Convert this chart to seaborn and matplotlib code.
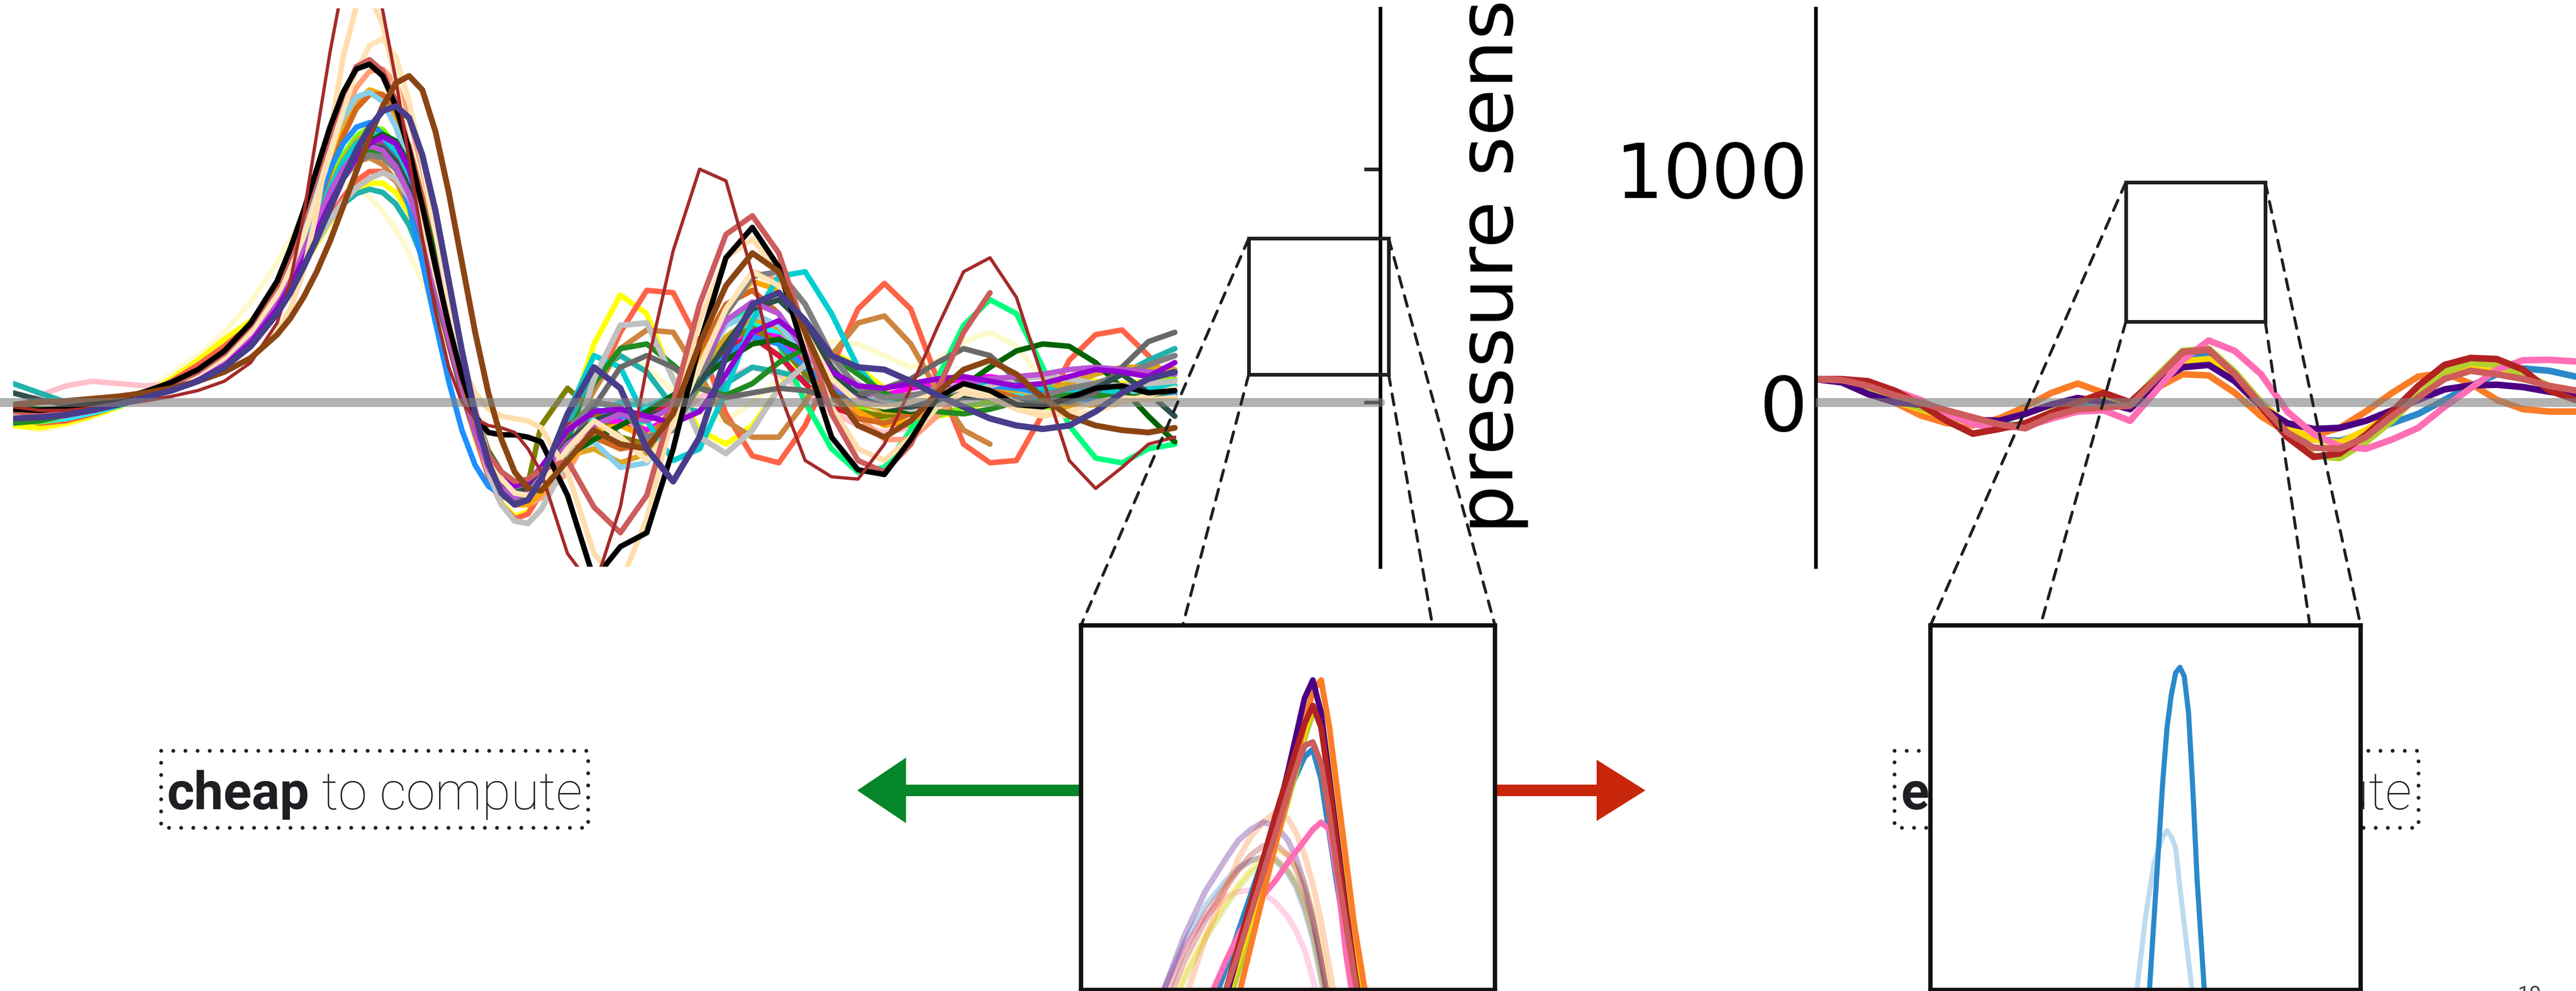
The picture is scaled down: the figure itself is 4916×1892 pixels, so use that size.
import matplotlib
matplotlib.use("Agg")
import matplotlib.pyplot as plt
import seaborn as sns
import pandas as pd
from matplotlib.patches import Rectangle, FancyArrow, ConnectionPatch
from matplotlib.transforms import Affine2D

# ====================== DATA ======================
# ---- left panel: many sensor traces (time grid, sensor value) ----
t_left = [0, 10, 20, 30, 40, 50, 60, 70, 80, 90, 100,
          105, 110, 115, 120, 125, 130, 135, 140, 145, 150, 155, 160, 165, 170, 175, 180, 185, 190, 195, 200,
          210, 220, 230, 240, 250, 260, 270, 280, 290, 300, 310, 320, 330, 340, 350, 360, 370, 380, 390, 400,
          410, 420, 430, 440]
N = None
tr_black = [-30, -35, -25, -5, 15, 45, 85, 140, 220, 340, 520,
            660, 820, 1000, 1180, 1330, 1430, 1450, 1400, 1270, 1080, 840, 580, 330, 110, -60, -130, -140, -140, -150, -170,
            -400, -760, -620, -560, -200, 250, 620, 750, 580, 200, -150, -290, -310, -160, 20, 80, 50, -10, -20, 20, 60, 70, 40, 50]
tr_brown = [-20, -35, -35, -25, -10, 5, 25, 50, 90, 170, 340,
            520, 800, 1150, 1500, 1800, 1950, 1900, 1680, 1380, 1040, 700, 390, 150, 0, -70, -100, -110, -130, -200, -300,
            -650, -800, -450, 150, 650, 1000, 950, 550, 50, -250, -320, -330, -180, 60, 320, 560, 620, 450, 100, -250, -370, -280, -180, -150]
tr_navajo = [-40, -45, -35, -15, 5, 30, 60, 90, 130, 190, 300,
             400, 560, 820, 1150, 1480, 1700, 1750, 1620, 1380, 1080, 790, 540, 330, 160, 40, -30, -60, -70, -80, -110,
             -300, -650, -780, -500, -50, 350, 620, 700, 560, 280, -20, -200, -250, -150, -20, 40, 20, -30, -60, -40, 0, 20, 10, 20]
tr_moccasin = [-50, -55, -40, -20, 0, 30, 70, 120, 190, 300, 460,
               570, 710, 880, 1060, 1250, 1420, 1530, 1560, 1480, 1290, 1030, 730, 430, 160, -60, -220, -330, -390, -400, -360,
               -200, -80, -150, -250, -100, 150, 400, 560, 500, 300, 100, 0, -20, 0, 40, 60, 40, 0, -40, -60, -40, 0, 30, 60]
tr_indianred = [-40, -50, -40, -20, 5, 35, 75, 130, 210, 330, 500,
                630, 790, 970, 1150, 1320, 1440, 1470, 1420, 1290, 1090, 850, 580, 320, 90, -90, -220, -300, -340, -330, -290,
                -250, -450, -560, -400, 0, 420, 720, 800, 640, 300, -50, -250, -300, -180, 50, 300, 470, N, N, N, N, N, N, N]
tr_salmon = [-60, -65, -50, -30, -5, 25, 65, 115, 190, 300, 460,
             580, 730, 900, 1070, 1230, 1350, 1420, 1430, 1370, 1220, 1000, 740, 460, 200, -30, -210, -340, -420, -440, -410,
             -300, -100, -50, -150, -120, 100, 380, 560, 520, 320, 100, -60, -160, -160, -60, 50, 100, 80, 20, -20, -10, 20, 40, 30]
tr_saddle = [-10, 0, 5, 15, 25, 40, 60, 90, 130, 190, 290,
             360, 450, 560, 690, 840, 990, 1140, 1270, 1370, 1400, 1340, 1160, 900, 600, 300, 40, -160, -300, -370, -380,
             -250, -120, -180, -200, -50, 250, 500, 640, 560, 300, 50, -100, -150, -80, 40, 140, 180, 120, 20, -60, -100, -120, -130, -110]
tr_chocolate = [-50, -55, -45, -25, 0, 30, 65, 110, 180, 290, 440,
                550, 680, 830, 990, 1140, 1260, 1320, 1320, 1250, 1100, 880, 620, 360, 120, -80, -230, -330, -380, -380, -340,
                -220, -150, -200, -180, -20, 220, 420, 480, 380, 180, 20, -70, -90, -50, 20, 60, 50, 20, 0, 10, 30, 30, 20, 20]
tr_skyblue = [-70, -75, -60, -40, -10, 25, 65, 115, 190, 300, 470,
              600, 760, 930, 1090, 1220, 1310, 1330, 1290, 1180, 1010, 790, 540, 290, 60, -130, -270, -360, -400, -400, -350,
              -220, -170, -280, -260, -80, 150, 330, 380, 330, 200, 80, 20, 0, 10, 40, 70, 80, 60, 30, 10, 0, 20, 50, 70]
tr_slateblue = [-70, -65, -55, -35, -10, 20, 50, 90, 150, 240, 380,
                470, 580, 700, 830, 960, 1080, 1180, 1250, 1270, 1220, 1060, 820, 520, 220, -50, -260, -390, -440, -420, -330,
                -50, 150, 60, -200, -340, -150, 200, 420, 470, 350, 200, 150, 140, 90, 30, -20, -70, -100, -115, -100, -40, 40, 100, 130]
tr_violet = [-60, -60, -50, -30, -5, 25, 55, 95, 155, 255, 400,
             500, 610, 730, 850, 960, 1050, 1110, 1140, 1110, 1000, 820, 590, 340, 110, -90, -240, -330, -360, -340, -280,
             -120, -40, -30, -60, -90, -40, 120, 300, 350, 260, 130, 70, 60, 80, 100, 110, 90, 70, 80, 110, 140, 130, 110, 170]
tr_gray = [-20, -40, -40, -20, 5, 30, 60, 100, 160, 260, 420,
           510, 620, 740, 860, 960, 1030, 1060, 1050, 1000, 900, 740, 530, 300, 80, -100, -240, -330, -370, -360, -300,
           -120, 0, -20, -150, -120, 80, 380, 540, 560, 420, 200, 60, 20, 30, 50, 40, 20, 10, 30, 60, 80, 120, 160, 200]
tr_silver = [-40, -55, -50, -30, -5, 25, 60, 100, 170, 270, 420,
             500, 600, 690, 780, 860, 920, 960, 985, 960, 880, 740, 550, 330, 110, -110, -300, -440, -510, -520, -460,
             -250, 100, 330, 340, 100, -150, -220, -120, 60, 160, 160, 80, 0, -30, -10, 30, 70, 100, 110, 100, 80, 70, 80, 90]
tr_seagreen = [80, 40, 0, -10, 0, 20, 50, 90, 150, 250, 400,
               490, 590, 690, 780, 850, 895, 914, 900, 850, 760, 620, 450, 260, 60, -130, -280, -360, -390, -370, -300,
               -100, 120, 200, 130, -20, -40, 80, 150, 130, 100, 60, 40, 20, 20, 30, 60, 80, 70, 40, 30, 60, 120, 180, 230]
tr_darkgreen = [-20, -30, -30, -15, 5, 30, 60, 100, 160, 250, 400,
                490, 600, 720, 840, 960, 1060, 1120, 1150, 1120, 1020, 850, 620, 370, 140, -60, -210, -300, -340, -340, -300,
                -230, -160, -100, -40, 30, 100, 180, 250, 270, 220, 120, 30, -30, -40, 0, 70, 150, 220, 250, 240, 170, 60, -60, -170]
tr_forest = [-90, -80, -55, -25, 10, 45, 85, 130, 190, 280, 420,
             510, 620, 740, 860, 960, 1040, 1080, 1070, 1010, 890, 710, 490, 260, 50, -130, -280, -380, -420, -400, -330,
             -150, 80, 230, 250, 160, 60, 30, 80, 170, 230, 200, 120, 40, -10, -40, -50, -30, 0, 20, 30, 30, 20, 30, 50]
tr_yellow = [-100, -110, -90, -60, -20, 30, 100, 180, 270, 350, 450,
             510, 590, 680, 770, 850, 910, 940, 940, 900, 810, 670, 490, 270, 50, -150, -310, -430, -490, -470, -380,
             -100, 250, 460, 380, 100, -120, -180, -100, 60, 200, 220, 150, 60, -20, -60, -40, 10, 60, 80, 100, 90, 80, 90, 100]
tr_tomato = [-60, -90, -80, -50, -15, 30, 90, 160, 240, 330, 450,
             520, 610, 700, 790, 880, 950, 990, 990, 950, 860, 710, 510, 290, 70, -140, -320, -440, -500, -480, -390,
             -150, 50, 300, 480, 470, 250, -50, -230, -260, -100, 150, 400, 510, 400, 100, -180, -260, -250, -50, 180, 290, 310, 200, 60]
tr_dodger = [-50, -55, -45, -25, 0, 30, 70, 120, 190, 300, 450,
             560, 700, 850, 1000, 1110, 1180, 1200, 1150, 1030, 840, 600, 340, 90, -120, -270, -360, -400, -400, -360, -290,
             -150, -30, -60, -80, -20, 80, 200, 280, 250, 150, 60, 0, -20, -10, 20, 50, 70, 60, 40, 20, 10, 20, 30, 40]
tr_cyan = [-70, -80, -70, -45, -15, 20, 60, 110, 180, 280, 430,
           530, 650, 780, 910, 1020, 1100, 1140, 1130, 1070, 950, 770, 550, 310, 80, -120, -280, -380, -430, -420, -360,
           -200, -60, 0, -20, 30, 130, 250, 330, 300, 200, 100, 40, 10, 0, 20, 40, 50, 40, 30, 40, 60, 70, 70, 60]
tr_turquoise = [-40, -50, -45, -25, 0, 30, 65, 110, 180, 290, 440,
                540, 660, 790, 920, 1030, 1110, 1150, 1140, 1080, 960, 780, 560, 320, 90, -110, -270, -370, -410, -400, -340,
                -50, 200, 150, -80, -250, -200, 50, 350, 540, 560, 380, 150, 20, -20, 0, 50, 80, 80, 60, 40, 40, 50, 60, 70]
tr_spring = [-60, -70, -60, -40, -10, 25, 65, 115, 190, 300, 450,
             550, 670, 800, 930, 1040, 1120, 1160, 1150, 1090, 970, 790, 570, 330, 100, -100, -260, -360, -410, -410, -360,
             -250, -150, -100, -80, 0, 150, 330, 400, 250, 0, -200, -300, -280, -120, 100, 330, 440, 380, 150, -100, -240, -260, -200, -180]
tr_lawn = [-80, -85, -70, -45, -15, 20, 60, 110, 180, 290, 440,
           540, 660, 800, 940, 1060, 1140, 1180, 1170, 1100, 970, 780, 550, 300, 70, -130, -280, -370, -400, -380, -320,
           -180, -80, -60, -120, -90, 60, 240, 350, 320, 200, 80, -20, -80, -100, -60, -20, 0, -10, -30, -20, 10, 50, 80, 100]
tr_orange = [-55, -65, -55, -35, -5, 30, 70, 120, 200, 310, 470,
             580, 720, 880, 1040, 1180, 1290, 1340, 1320, 1230, 1070, 850, 590, 330, 90, -120, -280, -390, -440, -440, -390,
             -270, -120, -100, -150, -50, 180, 400, 520, 480, 300, 100, -40, -100, -80, 0, 80, 100, 60, 10, -20, -10, 20, 40, 50]
tr_goldenrod = [-80, -80, -60, -35, -5, 30, 70, 120, 190, 300, 450,
                550, 670, 800, 930, 1040, 1120, 1160, 1150, 1090, 970, 790, 560, 310, 80, -120, -270, -360, -400, -390, -340,
                -230, -200, -260, -220, -80, 120, 280, 360, 320, 200, 80, 0, -40, -40, 0, 40, 60, 50, 50, 80, 120, 150, 150, 140]
tr_peru = [-60, -65, -55, -35, -10, 25, 65, 110, 180, 280, 430,
           520, 630, 750, 870, 970, 1030, 1050, 1020, 950, 840, 690, 500, 280, 60, -140, -290, -380, -420, -400, -330,
           -150, 50, 230, 310, 300, 120, -80, -150, -150, 0, 200, 340, 370, 250, 50, -120, -180, N, N, N, N, N, N, N]
tr_olive = [-40, -50, -40, -20, 5, 35, 70, 115, 185, 290, 440,
            540, 660, 790, 920, 1030, 1110, 1150, 1140, 1080, 960, 780, 560, 320, 90, -120, -290, -400, -430, -350, -100,
            60, -40, -150, -180, -100, 80, 260, 320, 250, 120, 20, -40, -60, -40, 0, 30, 30, 10, -10, -20, 0, 30, 40, 30]
tr_chiffon = [-100, -120, -100, -60, -10, 50, 120, 200, 300, 430, 600,
              700, 800, 880, 930, 940, 920, 880, 820, 740, 640, 520, 380, 230, 80, -70, -200, -300, -350, -350, -300,
              -150, 100, 200, 150, 50, -50, -80, 0, 100, 200, 260, 250, 200, 150, 180, 260, 300, 240, 100, 0, N, N, N, N]
tr_magenta = [-60, -60, -50, -30, -5, 25, 60, 105, 170, 270, 420,
              520, 640, 770, 900, 1010, 1090, 1130, 1120, 1060, 940, 760, 540, 300, 80, -120, -270, -360, -400, -380, -310,
              -180, -100, -80, -120, -60, 80, 220, 300, 280, 180, 80, 30, 30, 60, 80, 100, 110, 90, 60, 40, 30, 40, 50, 60]
tr_pink = [-20, 30, 70, 90, 80, 70, 80, 110, 170, 270, 420,
           510, 620, 740, 860, 960, 1040, 1080, 1070, 1010, 900, 730, 520, 290, 70, -130, -280, -380, -420, -400, -340,
           -200, -120, -100, -120, -80, 20, 100, 150, 120, 40, -40, -100, -130, -110, -60, -20, 0, 0, -10, -20, 0, 20, 30, 40]
tr_dimgray = [-30, -40, -35, -20, 0, 30, 60, 100, 165, 265, 420,
              520, 640, 760, 880, 990, 1070, 1110, 1100, 1040, 920, 740, 520, 290, 70, -120, -270, -360, -400, -390, -330,
              -200, -20, 150, 200, 150, 60, 20, 40, 60, 50, 20, 30, 60, 100, 170, 230, 200, 100, 20, 0, 40, 150, 260, 300]
tr_orchid = [-50, -55, -45, -25, 0, 30, 65, 110, 175, 280, 430,
             530, 650, 780, 900, 1000, 1070, 1100, 1080, 1010, 890, 720, 500, 270, 60, -130, -280, -370, -410, -390, -320,
             -180, -100, -50, -80, -20, 150, 350, 430, 380, 220, 80, 10, -20, 0, 40, 80, 100, 110, 120, 140, 150, 140, 130, 120]
tr_slategray = [40, 10, -10, -10, 0, 25, 55, 95, 160, 260, 410,
                510, 630, 750, 870, 980, 1060, 1100, 1090, 1030, 920, 750, 530, 300, 80, -110, -260, -350, -390, -370, -310,
                -170, -80, -40, -60, -30, 80, 250, 400, 440, 330, 150, 20, -20, -20, 0, 20, 20, 0, -10, 10, 60, 120, 40, -60]
tr_crimson = [-50, -60, -50, -30, -5, 25, 60, 105, 170, 275, 425,
              520, 640, 770, 890, 990, 1060, 1090, 1070, 1000, 880, 700, 480, 250, 40, -140, -290, -380, -410, -380, -300,
              -100, -50, -40, -60, 0, 100, 230, 280, 200, 80, -20, -60, -60, -20, 30, 60, 50, 20, -10, -20, 0, 20, 30, 20]

# ---- right panel: a few traces ----
t_right = [0, 10, 20, 30, 40, 50, 60, 70, 80, 90, 100, 110, 120, 130, 140,
           150, 160, 170, 180, 190, 200, 210, 220, 230, 240, 250, 260, 270, 280, 290]
rt_orange = [99, 95, 60, 0, -56, -90, -99, -70, -20, 40, 80, 40, -5, 60, 120,
             115, 40, -60, -130, -144, -110, -40, 40, 110, 125, 80, 10, -30, -40, -40]
rt_blue = [99, 90, 45, 10, -20, -55, -80, -95, -100, -70, -5, 10, -10, 70, 190,
           200, 110, -10, -110, -160, -166, -130, -90, -50, 10, 70, 120, 145, 135, 110]
rt_gold = [99, 90, 50, 5, -30, -65, -90, -105, -100, -50, 5, 20, -5, 90, 175,
           185, 110, 0, -100, -160, -173, -120, -50, 30, 110, 145, 130, 100, 70, 50]
rt_yellowgreen = [99, 92, 55, 10, -25, -60, -88, -105, -95, -40, 10, 15, -5, 110, 220,
                  230, 130, 0, -130, -230, -240, -170, -80, 30, 130, 170, 160, 120, 70, 45]
rt_indigo = [99, 85, 35, 0, -10, -50, -75, -80, -50, -10, 18, 0, -30, 80, 150,
             160, 90, -20, -90, -115, -110, -80, -35, 10, 55, 72, 75, 65, 45, 30]
rt_pink = [99, 95, 75, 50, 10, -50, -95, -108, -105, -70, -40, -35, -80, 50, 180,
           265, 220, 120, -40, -136, -190, -200, -160, -110, -20, 60, 140, 180, 182, 175]
rt_firebrick = [99, 99, 90, 50, -10, -80, -135, -115, -90, -45, 0, 40, 0, 100, 215,
                225, 120, -20, -150, -235, -220, -140, -40, 70, 160, 190, 185, 140, 50, 10]
rt_indianred = [99, 95, 70, 30, 0, -35, -65, -95, -112, -60, -30, -22, -15, 100, 215,
                225, 120, -10, -130, -195, -200, -150, -60, 20, 100, 135, 120, 100, 70, 50]

# ---- left zoom inset (relative units 0-100) ----
t_inset_l = [15, 20, 25, 30, 35, 38, 41, 44, 47, 50, 52, 54, 56, 58, 60, 62, 64, 66, 68, 70, 75]
il_indigo = [-80, -60, -40, -20, -2, 10, 22, 34, 46, 60, 70, 80, 85, 76, 58, 40, 22, 6, -10, -25, -60]
il_orange = [-90, -70, -50, -30, -12, -2, 12, 26, 40, 53, 63, 73, 82, 85, 72, 54, 36, 18, 4, -10, -45]
il_firebrick = [-80, -60, -40, -18, 0, 12, 24, 36, 48, 59, 66, 73, 78, 72, 56, 38, 21, 6, -8, -22, -55]
il_gold = [-85, -65, -45, -22, -3, 8, 19, 31, 43, 55, 63, 71, 78, 75, 60, 42, 25, 10, 0, -15, -50]
il_yellowgreen = [-85, -65, -45, -24, -6, 5, 16, 28, 40, 52, 60, 69, 76, 74, 60, 43, 27, 12, 2, -12, -48]
il_indianred = [-75, -55, -35, -15, 0, 10, 21, 32, 43, 54, 61, 67, 68, 62, 48, 32, 18, 4, -10, -22, -55]
il_blue = [-70, -50, -30, -10, 6, 16, 26, 36, 45, 54, 59, 64, 66, 58, 43, 28, 14, 0, -14, -26, -58]
il_pink = [-50, -35, -20, -5, 8, 15, 21, 26, 30, 35, 38, 41, 44, 46, 44, 30, 10, -5, -20, -35, -65]
il_indigo_f = [-25, 0, 15, 27, 36, 41, 44, 46, 45, 41, 36, 29, 20, 8, -5, -18, -30, -40, -50, -60, -80]
il_orange_f = [-40, -18, -3, 14, 28, 36, 42, 46, 48.8, 47, 43, 37, 29, 19, 6, -7, -20, -32, -44, -55, -80]
il_gold_f = [-30, -10, 4, 15, 24, 29, 33, 36.5, 38.4, 37, 34, 29, 22, 12, -2, -14, -26, -37, -48, -58, -80]
il_yellowgreen_f = [-30, -10, 3, 14, 23, 28, 32, 35, 35.5, 33, 29, 24, 16, 3, -8, -20, -31, -42, -52, -62, -85]
il_blue_f = [-20, 0, 13, 23, 30, 33.5, 35.5, 36.4, 35.5, 32, 28, 22, 14, 3, -8, -20, -31, -42, -52, -62, -85]
il_indianred_f = [-22, -3, 11, 21, 29, 33, 35.5, 36.4, 36, 32.5, 29, 23, 15, 5, -7, -19, -30, -41, -51, -61, -85]
il_pink_f = [-15, 0, 12, 20, 25.5, 27, 27.4, 26.5, 24, 20, 16, 11, 3, -6, -16, -27, -37, -47, -57, -66, -90]
il_firebrick_f = [-25, -6, 8, 19, 28, 33, 37, 39.5, 40, 37, 33, 27, 19, 8, -4, -16, -28, -39, -49, -59, -84]

# ---- right zoom inset ----
t_inset_r = [40, 44, 46, 48, 50, 52, 54, 55, 56, 57, 58, 59, 60, 61, 62, 64, 66, 68, 70, 75]
ir_blue = [-200, -130, -95, -55, -17, 20, 57, 72, 81, 87, 88.5, 86, 76, 55, 30, -6, -40, -75, -110, -200]
ir_blue_f = [-90, -45, -22, 0, 20, 35, 42, 43.7, 42, 39, 28, 18, 8, -2, -12, -32, -52, -72, -92, -140]

# ---- axis / text content ----
y_ticks = [0, 1000]
y_ticklabels = ["0", "1000"]
y_label = "pressure sensor"
label_left = ("cheap", " to compute")
label_right = ("expensive", " to compute")
page_number = "10"

# ====================== STYLE ======================
W, H = 4916, 1892
sns.set_style("white")
plt.rcParams["font.family"] = ["DejaVu Sans"]
TXT = "#1d1f22"
LW = 7.5

left_styles = [
    (tr_chiffon, "#fffacd", LW), (tr_pink, "#ffc0cb", LW), (tr_yellow, "#ffff00", LW),
    (tr_tomato, "#ff6347", LW), (tr_lawn, "#7cfc00", LW), (tr_spring, "#00ff7f", LW),
    (tr_cyan, "#00ffff", LW), (tr_seagreen, "#20b2aa", LW), (tr_magenta, "#ff00ff", LW),
    (tr_crimson, "#dc143c", LW), (tr_olive, "#808000", LW), (tr_goldenrod, "#daa520", LW),
    (tr_peru, "#cd853f", LW), (tr_salmon, "#ffa07a", LW), (tr_orange, "#ffa500", LW),
    (tr_chocolate, "#d2691e", LW), (tr_skyblue, "#87ceeb", LW), (tr_dodger, "#1e90ff", LW),
    (tr_turquoise, "#00ced1", LW), (tr_forest, "#228b22", LW), (tr_darkgreen, "#006400", LW),
    (tr_silver, "#c0c0c0", 8.0), (tr_gray, "#808080", 8.0), (tr_dimgray, "#696969", LW),
    (tr_slategray, "#2f4f4f", LW), (tr_orchid, "#ba55d3", LW), (tr_violet, "#9400d3", LW),
    (tr_moccasin, "#ffe4b5", LW), (tr_navajo, "#ffdead", LW), (tr_indianred, "#cd5c5c", LW),
    (tr_black, "#000000", LW), (tr_brown, "#a52a2a", 4.5), (tr_saddle, "#8b4513", 8.0),
    (tr_slateblue, "#483d8b", 8.5),
]
C_INDIGO, C_ORANGE, C_BLUE, C_PINK = "#4b0082", "#fb7d28", "#2a89c9", "#ff6eb4"
C_GOLD, C_YG, C_FIREBRICK, C_INDIANRED = "#ffd700", "#b2cf2e", "#b22222", "#cd5c5c"
right_styles = [
    (rt_orange, C_ORANGE), (rt_blue, C_BLUE), (rt_gold, C_GOLD), (rt_yellowgreen, C_YG),
    (rt_indigo, C_INDIGO), (rt_pink, C_PINK), (rt_firebrick, C_FIREBRICK), (rt_indianred, C_INDIANRED),
]
inset_l_faint = [
    (il_blue_f, C_BLUE), (il_indianred_f, C_INDIANRED), (il_pink_f, C_PINK), (il_yellowgreen_f, C_YG),
    (il_gold_f, C_GOLD), (il_firebrick_f, C_FIREBRICK), (il_orange_f, C_ORANGE), (il_indigo_f, C_INDIGO),
]
inset_l_solid = [
    (il_blue, C_BLUE), (il_pink, C_PINK), (il_yellowgreen, C_YG), (il_gold, C_GOLD),
    (il_orange, C_ORANGE), (il_indigo, C_INDIGO), (il_firebrick, C_FIREBRICK), (il_indianred, C_INDIANRED),
]

fig = plt.figure(figsize=(W / 100, H / 100), dpi=100)
fig.patch.set_facecolor("white")
PX = Affine2D().scale(1.0 / W, -1.0 / H).translate(0, 1) + fig.transFigure


def frac_box(x0, y0, x1, y1):
    return [x0 / W, (H - y1) / H, (x1 - x0) / W, (y1 - y0) / H]


def trace(ax, xs, ys, color, lw, alpha=1.0):
    df = pd.DataFrame({"x": xs, "y": ys}).dropna()
    sns.lineplot(data=df, x="x", y="y", ax=ax, color=color, linewidth=lw, alpha=alpha,
                 estimator=None, sort=False, legend=False,
                 solid_joinstyle="round", solid_capstyle="round")


YLIM = (-706, 1690)
GRAY_KW = dict(color="gray", alpha=0.6, linewidth=12.2, zorder=20)
SPINE_LW = 5.0

# ---------------- left panel ----------------
axA = fig.add_axes(frac_box(25, 16, 2634, 1082))
axA.set_facecolor("none")
for vals, col, lw in left_styles:
    trace(axA, t_left, vals, col, lw)
axA.set_xlim(0, 517.8)
axA.set_ylim(*YLIM)
axA.axhline(0, xmin=-0.0096, xmax=1.0, clip_on=False, **GRAY_KW)
for s in ["left", "top", "bottom"]:
    axA.spines[s].set_visible(False)
axA.spines["right"].set_linewidth(SPINE_LW)
axA.spines["right"].set_color("black")
axA.set_xticks([])
axA.yaxis.set_ticks_position("right")
axA.set_yticks(y_ticks)
axA.tick_params(axis="y", direction="in", length=22, width=SPINE_LW, labelright=False, labelleft=False)
axA.set_xlabel("")
axA.set_ylabel("")
zoomA = (468, 119, 521, 703)
axA.add_patch(Rectangle((zoomA[0], zoomA[1]), zoomA[2] - zoomA[0], zoomA[3] - zoomA[1],
                        fill=False, ec=TXT, lw=5.0, clip_on=False, zorder=30))

# ---------------- right panel ----------------
axB = fig.add_axes(frac_box(3465, 16, 4916, 1082))
axB.set_facecolor("none")
for vals, col in right_styles:
    trace(axB, t_right, vals, col, 9.0)
axB.set_xlim(0, 290.2)
axB.set_ylim(*YLIM)
axB.axhline(0, **GRAY_KW)
for s in ["right", "top", "bottom"]:
    axB.spines[s].set_visible(False)
axB.spines["left"].set_linewidth(SPINE_LW)
axB.spines["left"].set_color("black")
axB.set_xticks([])
axB.set_yticks(y_ticks)
axB.set_yticklabels(y_ticklabels)
axB.tick_params(axis="y", direction="in", length=22, width=SPINE_LW, labelsize=104, pad=11, colors="black")
axB.set_xlabel("")
axB.set_ylabel("")
zoomB = (118.4, 346, 171.6, 944)
axB.add_patch(Rectangle((zoomB[0], zoomB[1]), zoomB[2] - zoomB[0], zoomB[3] - zoomB[1],
                        fill=False, ec=TXT, lw=5.0, clip_on=False, zorder=30))

fig.text(2917, 1019, y_label, transform=PX, rotation=90, ha="right", va="bottom",
         fontsize=106, color="black")

# ---------------- insets ----------------
insL = fig.add_axes(frac_box(2063, 1194, 2853, 1890), zorder=5)
insL.set_facecolor("white")
for vals, col in inset_l_faint:
    trace(insL, t_inset_l, vals, col, 8.0, alpha=0.3)
for vals, col in inset_l_solid:
    trace(insL, t_inset_l, vals, col, 8.0)

insR = fig.add_axes(frac_box(3684, 1194, 4505, 1890), zorder=5)
insR.set_facecolor("white")
trace(insR, t_inset_r, ir_blue_f, C_BLUE, 7.0, alpha=0.3)
trace(insR, t_inset_r, ir_blue, C_BLUE, 7.0)

for ax in (insL, insR):
    ax.set_xlim(0, 100)
    ax.set_ylim(0, 100)
    ax.set_xticks([])
    ax.set_yticks([])
    ax.set_xlabel("")
    ax.set_ylabel("")
    for s in ax.spines.values():
        s.set_visible(True)
        s.set_linewidth(6.0)
        s.set_color("#111111")

# ---------------- connector lines ----------------
DASH = dict(color=TXT, lw=4.0, linestyle=(0, (3.8, 3.0)), zorder=4)
connA = [((zoomA[0], zoomA[3]), 0.0), ((zoomA[0], zoomA[1]), 0.2456),
         ((zoomA[2], zoomA[1]), 0.849), ((zoomA[2], zoomA[3]), 1.0)]
for xy, fx in connA:
    fig.add_artist(ConnectionPatch(xyA=xy, coordsA=axA.transData, xyB=(fx, 1.0),
                                   coordsB=insL.transAxes, **DASH))
connB = [((zoomB[0], zoomB[3]), 0.0), ((zoomB[0], zoomB[1]), 0.2558),
         ((zoomB[2], zoomB[1]), 0.882), ((zoomB[2], zoomB[3]), 1.0)]
for xy, fx in connB:
    fig.add_artist(ConnectionPatch(xyA=xy, coordsA=axB.transData, xyB=(fx, 1.0),
                                   coordsB=insR.transAxes, **DASH))

# ---------------- arrows ----------------
fig.add_artist(FancyArrow(2060, 1509, 1636 - 2060, 0, width=22, head_width=125, head_length=93,
                          length_includes_head=True, transform=PX, color="#05862a", lw=0, zorder=4))
fig.add_artist(FancyArrow(2850, 1509, 3140 - 2850, 0, width=22, head_width=117, head_length=93,
                          length_includes_head=True, transform=PX, color="#c8260a", lw=0, zorder=4))

# ---------------- boxed labels ----------------
FAM = ["Roboto", "DejaVu Sans"]
renderer = fig.canvas.get_renderer()


def boxed(parts, cx, base_y, box):
    t1 = fig.text(0, base_y, parts[0], transform=PX, fontsize=72, fontweight="bold", family=FAM,
                  color=TXT, ha="left", va="baseline", zorder=3)
    t2 = fig.text(0, base_y, parts[1], transform=PX, fontsize=72, fontweight="light", family=FAM,
                  color=TXT, ha="left", va="baseline", zorder=3)
    w1 = t1.get_window_extent(renderer).width
    w2 = t2.get_window_extent(renderer).width
    x0 = cx - (w1 + w2) / 2
    t1.set_x(x0)
    t2.set_x(x0 + w1)
    r = Rectangle((box[0], box[1]), box[2] - box[0], box[3] - box[1], transform=PX, fill=False,
                  ec=TXT, lw=5.2, linestyle=(0, (0.01, 3.2)), capstyle="round", zorder=3)
    fig.add_artist(r)


boxed(label_left, 715, 1545, (307, 1433, 1122, 1580))
boxed(label_right, 4115, 1545, (3615, 1433, 4615, 1580))

fig.text(4805, 1880, page_number, transform=PX, fontsize=29, color="#444444",
         ha="left", va="top", family=FAM)

fig.savefig("out.png", dpi=100, facecolor="white")
